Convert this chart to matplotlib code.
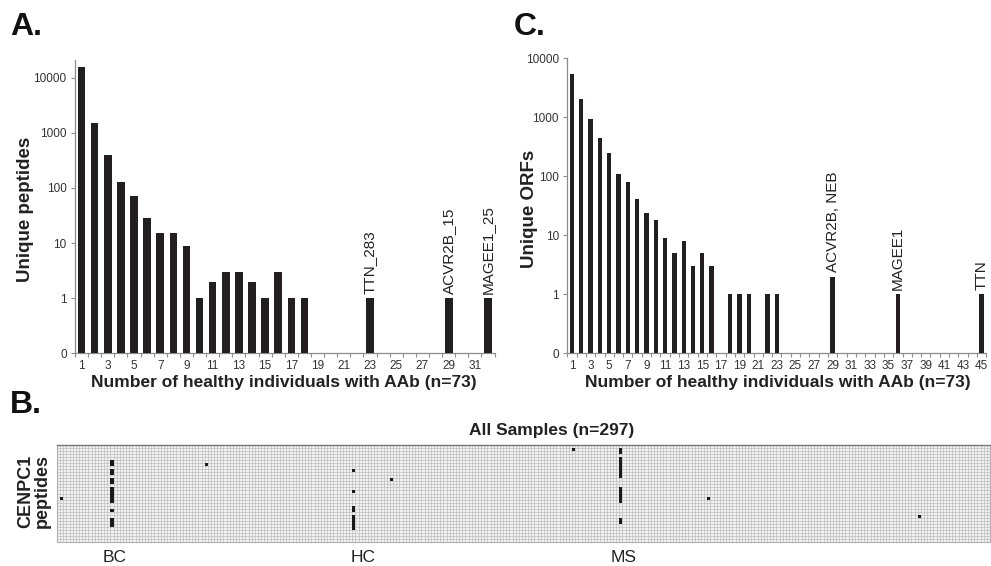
import numpy as np
import matplotlib
matplotlib.use("Agg")
import matplotlib.pyplot as plt
from matplotlib.ticker import FixedLocator, NullLocator

plt.rcParams['font.family'] = ['Liberation Sans', 'DejaVu Sans']

# ---------------- data ----------------
# Panel A: unique peptides by number of healthy individuals with AAb
a_counts = list(range(1, 33))
a_values = [15400, 1480, 390, 128, 70, 28, 15, 15, 9, 1, 2, 3, 3, 2, 1, 3, 1, 1,
            0, 0, 0, 0, 1, 0, 0, 0, 0, 0, 1, 0, 0, 1]
a_labels = {23: "TTN_283", 29: "ACVR2B_15", 32: "MAGEE1_25"}

# Panel C: unique ORFs
c_counts = list(range(1, 46))
c_values = [5500, 2070, 940, 450, 250, 110, 80, 41, 24, 18, 9, 5, 8, 3, 5, 3, 0,
            1, 1, 1, 0, 1, 1, 0, 0, 0, 0, 0, 2, 0, 0, 0, 0, 0, 0, 1,
            0, 0, 0, 0, 0, 0, 0, 0, 1]
c_labels = {29: "ACVR2B, NEB", 36: "MAGEE1", 45: "TTN"}

ytick_vals = [0.1, 1, 10, 100, 1000, 10000]
ytick_text = ["0", "1", "10", "100", "1000", "10000"]

# Panel B: CENPC1 peptide hits across all samples (n=297)
n_samples = 297
n_peptides = 32
hit_columns = [1, 17, 47, 94, 106, 164, 179, 207, 274]
hit_rows = [
    [17],
    [5, 6, 8, 9, 11, 12, 14, 15, 16, 17, 18, 21, 24, 25, 26],
    [6],
    [8, 15, 20, 21, 23, 24, 25, 26, 27],
    [11],
    [1],
    [1, 2, 4, 5, 6, 7, 8, 9, 10, 14, 15, 16, 17, 18, 24, 25],
    [17],
    [23],
]
group_names = ["BC", "HC", "MS"]
group_centers = [18, 97, 180]

# ---------------- figure ----------------
W, H = 991, 566
fig = plt.figure(figsize=(W / 100, H / 100), dpi=100)

def fx(px):
    return px / W

def fy(py):
    return 1 - py / H

BAR = '#231f20'
SPINE = '#8c8c8c'
TXT = '#333333'


def bar_panel(rect, counts, values, labels, ytop, width):
    ax = fig.add_axes(rect)
    counts = np.array(counts)
    values = np.array(values, dtype=float)
    m = values > 0
    ax.bar(counts[m], values[m] - 0.1, bottom=0.1, width=width, color=BAR,
           edgecolor='none', zorder=3)
    ax.set_yscale('log')
    ax.set_ylim(0.1, ytop)
    ax.set_xlim(0.5, counts[-1] + 0.5)
    ax.yaxis.set_major_locator(FixedLocator(ytick_vals))
    ax.yaxis.set_minor_locator(NullLocator())
    ax.set_yticklabels(ytick_text)
    ax.xaxis.set_major_locator(FixedLocator(counts[::2]))
    ax.xaxis.set_minor_locator(FixedLocator(np.arange(0.5, counts[-1] + 1, 1)))
    ax.tick_params(axis='x', which='major', length=0, pad=5, labelsize=8.5, labelcolor=TXT)
    ax.tick_params(axis='x', which='minor', length=3, color=SPINE, width=0.8)
    ax.tick_params(axis='y', which='major', length=3, color=SPINE, width=0.8,
                   labelsize=8.5, labelcolor=TXT, pad=3)
    for s in ['top', 'right']:
        ax.spines[s].set_visible(False)
    for s in ['left', 'bottom']:
        ax.spines[s].set_color(SPINE)
        ax.spines[s].set_linewidth(0.9)
    for k, txt in labels.items():
        v = values[k - 1]
        ax.annotate(txt, (k, v), xytext=(0, 3), textcoords='offset points',
                    rotation=90, ha='center', va='bottom', fontsize=11, color='#222222')
    return ax


axA = bar_panel([fx(75), fy(353.3), fx(494.6) - fx(75), fy(60) - fy(353.3)],
                a_counts, a_values, a_labels, 2.09e4, 0.58)
axC = bar_panel([fx(567.3), fy(353.3), fx(986.3) - fx(567.3), fy(58.3) - fy(353.3)],
                c_counts, c_values, c_labels, 1e4, 0.47)

fig.text(fx(26), fy(209), "Unique peptides", rotation=90, ha='center', va='center',
         fontsize=13.5, fontweight='bold', color='#222222')
fig.text(fx(529), fy(209), "Unique ORFs", rotation=90, ha='center', va='center',
         fontsize=13.5, fontweight='bold', color='#222222')
xl = "Number of healthy individuals with AAb (n=73)"
fig.text(fx(283.5), fy(383), xl, ha='center', va='center', fontsize=12.5,
         fontweight='bold', color='#222222')
fig.text(fx(777.5), fy(383), xl, ha='center', va='center', fontsize=12.5,
         fontweight='bold', color='#222222')

fig.text(fx(10), fy(27), "A.", ha='left', va='center', fontsize=23, fontweight='bold',
         color='#111111')
fig.text(fx(514), fy(27), "C.", ha='left', va='center', fontsize=23, fontweight='bold',
         color='#111111')
fig.text(fx(10), fy(405), "B.", ha='left', va='center', fontsize=23, fontweight='bold',
         color='#111111')

# ---------------- heatmap ----------------
axB = fig.add_axes([fx(57), fy(542), fx(990) - fx(57), fy(445) - fy(542)])
mat = np.zeros((n_peptides, n_samples))
for c, rows in zip(hit_columns, hit_rows):
    for r in rows:
        mat[r, c] = 1
axB.imshow(np.zeros_like(mat), cmap=matplotlib.colors.ListedColormap(['#f2f2f2']),
           aspect='auto', interpolation='nearest',
           extent=(0, n_samples, n_peptides, 0), zorder=1)
for i in range(n_samples + 1):
    axB.axvline(i, color='#b8b8b8', lw=0.45, zorder=2)
for j in range(n_peptides + 1):
    axB.axhline(j, color='#b8b8b8', lw=0.45, zorder=2)
hits = np.ma.masked_where(mat == 0, mat)
axB.imshow(hits, cmap=matplotlib.colors.ListedColormap(['#1a1a1a']),
           aspect='auto', interpolation='nearest',
           extent=(0, n_samples, n_peptides, 0), zorder=3)
axB.set_xlim(0, n_samples)
axB.set_ylim(n_peptides, 0)
axB.set_xticks([])
axB.set_yticks([])
for s in axB.spines.values():
    s.set_color('#b0b0b0')
    s.set_linewidth(0.8)
axB.spines['top'].set_color('#777777')
axB.spines['top'].set_linewidth(1.0)

fig.text(fx(552), fy(430), "All Samples (n=297)", ha='center', va='center',
         fontsize=12.5, fontweight='bold', color='#222222')
fig.text(fx(34), fy(491), "CENPC1\npeptides", rotation=90, ha='center', va='center',
         fontsize=13, fontweight='bold', color='#222222', linespacing=0.95)
for name, c in zip(group_names, group_centers):
    xpix = 57 + (c + 0.5) * (990 - 57) / n_samples
    fig.text(fx(xpix), fy(558), name, ha='center', va='center', fontsize=12.5,
             color='#222222')

fig.savefig("out.png", dpi=100)
